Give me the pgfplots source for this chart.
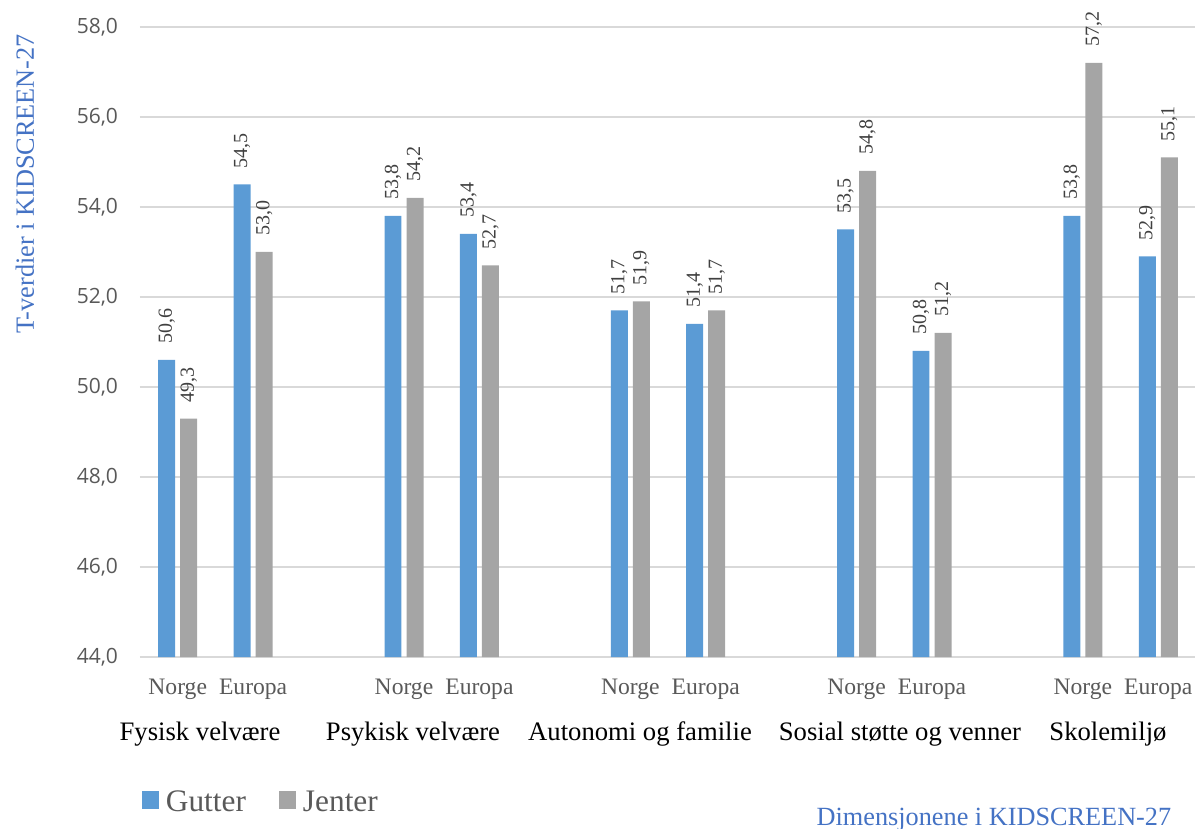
\documentclass[border=0pt]{standalone}
\usepackage{pgfplots}
\pgfplotsset{compat=1.18}
\usepackage{fontspec}
\setmainfont{Liberation Serif}
\newfontfamily\tickfont{Open Sans}
\definecolor{cblue}{HTML}{5B9BD5}
\definecolor{cgray}{HTML}{A5A5A5}
\definecolor{gridc}{HTML}{D9D9D9}
\definecolor{txtgray}{HTML}{595959}
\definecolor{lblgray}{HTML}{404040}
\definecolor{titleblue}{HTML}{4472C4}
\begin{document}
\begin{tikzpicture}
\begin{axis}[
  at={(0,0)}, anchor=south west,
  scale only axis, width=792pt, height=472.5pt,
  clip=false,
  xmin=-0.5, xmax=13.5, ymin=44, ymax=58,
  y coord trafo/.code={\pgfmathparse{#1-44}},
  y coord inv trafo/.code={\pgfmathparse{#1+44}},
  ytick={44,46,48,50,52,54,56,58},
  xtick={0,1,3,4,6,7,9,10,12,13},
  xticklabels={Norge,Europa,Norge,Europa,Norge,Europa,Norge,Europa,Norge,Europa},
  axis line style={draw=none},
  major tick style={draw=none},
  ymajorgrids, grid style={gridc, line width=0.9pt},
  /pgf/number format/.cd, use comma, fixed, fixed zerofill, precision=1, assume math mode=true, /pgfplots/.cd,
  yticklabel style={font=\tickfont\fontsize{15.75}{18}\selectfont, text=txtgray, anchor=east, xshift=-13pt},
  xticklabel style={font=\fontsize{17.7}{20}\selectfont, text=txtgray, anchor=base, yshift=-24pt},
  ybar, bar width=0.225,
  point meta=rawy,
  nodes near coords,
  every node near coord/.append style={font=\fontsize{15}{18}\selectfont, text=lblgray, rotate=90, anchor=west, inner xsep=12pt, inner ysep=1pt},
  ylabel={T-verdier i KIDSCREEN-27},
  ylabel style={at={(axis description cs:-0.109,0.751)}, anchor=center, font=\fontsize{19.7}{23}\selectfont, text=titleblue},
  xlabel={Dimensjonene i KIDSCREEN-27},
  xlabel style={at={(axis description cs:0.981,-0.2667)}, anchor=base east, font=\fontsize{19.7}{23}\selectfont, text=titleblue},
  legend columns=2,
  legend style={draw=none, fill=none, at={(axis description cs:0.0019,-0.2302)}, anchor=west, font=\fontsize{23.5}{28}\selectfont, text=txtgray, inner sep=0pt, nodes={inner xsep=5pt, inner ysep=2pt}, /tikz/every even column/.append style={column sep=20pt}},
  legend image code/.code={\fill[#1] (0pt,-5pt) rectangle (12.75pt,8pt);},
]
\addplot[fill=cblue, draw=none, bar shift=-0.146] coordinates {(0,50.6) (1,54.5) (3,53.8) (4,53.4) (6,51.7) (7,51.4) (9,53.5) (10,50.8) (12,53.8) (13,52.9)};
\addplot[fill=cgray, draw=none, bar shift=0.146] coordinates {(0,49.3) (1,53.0) (3,54.2) (4,52.7) (6,51.9) (7,51.7) (9,54.8) (10,51.2) (12,57.2) (13,55.1)};
\legend{Gutter, Jenter}
\end{axis}
\begin{scope}[every node/.style={font=\fontsize{20}{24}\selectfont, anchor=base, inner sep=0pt}]
\node at (45pt,-62.25pt) {Fysisk velvære};
\node at (204.75pt,-62.25pt) {Psykisk velvære};
\node at (375pt,-62.25pt) {Autonomi og familie};
\node at (570pt,-62.25pt) {Sosial støtte og venner};
\node at (726pt,-62.25pt) {Skolemiljø};
\end{scope}
\pgfresetboundingbox
\path[use as bounding box] (-105pt,-128.25pt) rectangle (791.25pt,492.75pt);
\end{tikzpicture}
\end{document}
